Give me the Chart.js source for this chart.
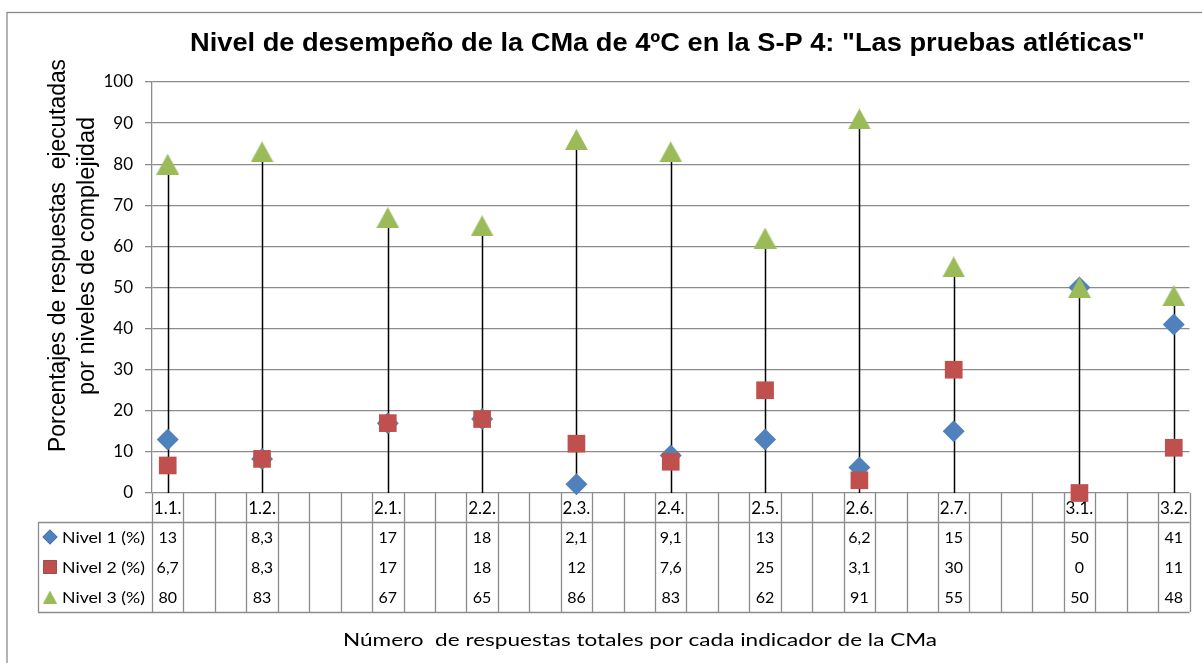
<!DOCTYPE html>
<html>
<head>
<meta charset="utf-8">
<script src="https://cdn.jsdelivr.net/npm/chart.js@4.4.0/dist/chart.umd.min.js"></script>
<style>
  html, body { margin: 0; padding: 0; background: #fff; }
  #wrap { width: 1202px; height: 663px; }
</style>
</head>
<body>
<div id="wrap"><canvas id="chart"></canvas></div>
<script>
//indicator codes, the empty ones are the blank columns of the table
const categories = ['1.1.', '', '', '1.2.', '', '', '', '2.1.', '', '', '2.2.', '', '', '2.3.', '', '', '2.4.', '', '',
    '2.5.', '', '', '2.6.', '', '', '2.7.', '', '', '', '3.1.', '', '', '3.2.'];

//percentages per level of complexity
const nivel1 = [13, null, null, 8.3, null, null, null, 17, null, null, 18, null, null, 2.1, null, null, 9.1, null, null,
    13, null, null, 6.2, null, null, 15, null, null, null, 50, null, null, 41];
const nivel2 = [6.7, null, null, 8.3, null, null, null, 17, null, null, 18, null, null, 12, null, null, 7.6, null, null,
    25, null, null, 3.1, null, null, 30, null, null, null, 0, null, null, 11];
const nivel3 = [80, null, null, 83, null, null, null, 67, null, null, 65, null, null, 86, null, null, 83, null, null,
    62, null, null, 91, null, null, 55, null, null, null, 50, null, null, 48];

const seriesNames = ['Nivel 1 (%)', 'Nivel 2 (%)', 'Nivel 3 (%)'];
const yTicks = [0, 10, 20, 30, 40, 50, 60, 70, 80, 90, 100];

const chartTitle = 'Nivel de desempeño de la CMa de 4ºC en la S-P 4: "Las pruebas atléticas"';
const yTitle = ['Porcentajes de respuestas  ejecutadas', 'por niveles de complejidad'];
const xTitle = 'Número  de respuestas totales por cada indicador de la CMa';

const BLUE = '#4F81BD';
const RED = '#C0504D';
const GREEN = '#9BBB59';
const GRID = '#8c8c8c';
const CALIBRI = 'Lato, "Open Sans", sans-serif';
const ARIAL = '"Liberation Sans", Arial, sans-serif';

//excel triangles are centered on their box, not on the centroid, so we make our own
const makeTriangle = (w, h, color) => {
    const c = document.createElement('canvas');
    c.width = w;
    c.height = h;
    const g = c.getContext('2d');
    g.fillStyle = color;
    g.beginPath();
    g.moveTo(0, h);
    g.lineTo(w / 2, 0);
    g.lineTo(w, h);
    g.closePath();
    g.fill();
    return c;
};
const bigTriangle = makeTriangle(23, 21, GREEN);
const smallTriangle = makeTriangle(14, 13, GREEN);

//draws text squeezed or stretched to a given width, like Excel does
const fitText = (ctx, text, x, y, width) => {
    const w = ctx.measureText(text).width;
    ctx.save();
    ctx.translate(x, y);
    ctx.scale(width / w, 1);
    ctx.fillText(text, 0, 0);
    ctx.restore();
};

const formatValue = (v) => String(v).replace('.', ',');

const drawMarker = (ctx, style, x, y, r, color) => {
    if (style instanceof HTMLCanvasElement) {
        ctx.drawImage(style, x - style.width / 2, y - style.height / 2);
        return;
    }
    Chart.helpers.drawPoint(ctx, {pointStyle: style, radius: r, rotation: 0, borderWidth: 0}, x, y);
    ctx.fillStyle = color;
    ctx.fill();
};

//drop lines from the highest point of each category to the axis
const dropLines = {
    id: 'dropLines',
    beforeDatasetsDraw(chart) {
        const {ctx, scales: {x, y}} = chart;
        ctx.save();
        ctx.strokeStyle = '#000';
        ctx.lineWidth = 1.5;
        categories.forEach((c, i) => {
            const vals = [nivel1[i], nivel2[i], nivel3[i]].filter((v) => v !== null);
            if (!vals.length) return;
            const px = Math.round(x.getPixelForValue(i)) + 0.5;
            ctx.beginPath();
            ctx.moveTo(px, y.getPixelForValue(Math.max(...vals)));
            ctx.lineTo(px, y.getPixelForValue(0));
            ctx.stroke();
        });
        ctx.restore();
    },
};

//data table under the chart, plus titles and the outer frame
const dataTable = {
    id: 'dataTable',
    beforeDatasetsDraw(chart) {
        const {ctx, chartArea, scales: {x}} = chart;
        const left = chartArea.left;
        const right = chartArea.right;
        const top = chartArea.bottom;
        const labelBottom = top + 29;
        const rowH = 30;
        const tableBottom = labelBottom + rowH * 3;
        const legendLeft = 38;
        const step = (right - left) / categories.length;

        ctx.save();
        ctx.strokeStyle = GRID;
        ctx.lineWidth = 1.3;
        ctx.beginPath();
        for (let i = 0; i <= categories.length; i++) {
            const bx = Math.round(left + i * step) + 0.5;
            ctx.moveTo(bx, top);
            ctx.lineTo(bx, tableBottom);
        }
        ctx.moveTo(legendLeft, labelBottom + 0.5);
        ctx.lineTo(right, labelBottom + 0.5);
        ctx.moveTo(legendLeft, tableBottom + 0.5);
        ctx.lineTo(right, tableBottom + 0.5);
        ctx.moveTo(legendLeft + 0.5, labelBottom);
        ctx.lineTo(legendLeft + 0.5, tableBottom);
        ctx.stroke();

        //category labels and values
        ctx.fillStyle = '#000';
        ctx.textAlign = 'center';
        ctx.textBaseline = 'middle';
        categories.forEach((c, i) => {
            const px = x.getPixelForValue(i);
            ctx.font = '17px ' + CALIBRI;
            if (c) ctx.fillText(c, px, top + 16);
            ctx.font = '16px ' + CALIBRI;
            [nivel1, nivel2, nivel3].forEach((serie, r) => {
                if (serie[i] !== null) ctx.fillText(formatValue(serie[i]), px, labelBottom + rowH * r + 16);
            });
        });

        //legend keys in the table
        const keys = [['rectRot', 7.5, BLUE], ['rect', 9.5, RED], [smallTriangle, 0, GREEN]];
        keys.forEach((k, r) => {
            drawMarker(ctx, k[0], 50, labelBottom + rowH * r + 15, k[1], k[2]);
            ctx.fillStyle = '#000';
            ctx.textAlign = 'left';
            ctx.font = '16px ' + CALIBRI;
            fitText(ctx, seriesNames[r], 62, labelBottom + rowH * r + 16, 83);
        });

        //titles
        ctx.textAlign = 'left';
        ctx.font = 'bold 25px ' + ARIAL;
        fitText(ctx, chartTitle, 190, 44, 955);

        ctx.font = '18px ' + CALIBRI;
        fitText(ctx, xTitle, 343, 640, 594);

        ctx.font = '23px ' + ARIAL;
        ctx.save();
        ctx.translate(59, 256);
        ctx.rotate(-Math.PI / 2);
        fitText(ctx, yTitle[0], -196, 0, 393);
        ctx.restore();
        ctx.save();
        ctx.translate(88, 256);
        ctx.rotate(-Math.PI / 2);
        fitText(ctx, yTitle[1], -139, 0, 278);
        ctx.restore();

        //outer frame of the chart
        ctx.strokeStyle = '#8a8a8a';
        ctx.lineWidth = 1.3;
        ctx.strokeRect(7, 12.5, 1400, 900);
        ctx.restore();
    },
};

const makeSet = (label, data, style, radius, color, order) => ({
    label,
    data,
    showLine: false,
    clip: false,
    pointStyle: style,
    pointRadius: radius,
    pointHoverRadius: radius,
    pointBackgroundColor: color,
    pointBorderColor: color,
    pointBorderWidth: 0,
    order,
});

new Chart(document.getElementById('chart'), {
    type: 'line',
    data: {
        labels: categories,
        datasets: [
            makeSet(seriesNames[0], nivel1, 'rectRot', 11, BLUE, 3),
            makeSet(seriesNames[1], nivel2, 'rect', 12.5, RED, 2),
            makeSet(seriesNames[2], nivel3, bigTriangle, 12, GREEN, 1),
        ],
    },
    options: {
        responsive: true,
        maintainAspectRatio: false,
        animation: false,
        layout: {padding: {left: 0, top: 82, right: 7, bottom: 170}},
        plugins: {
            legend: {display: false},
            title: {display: false},
            tooltip: {enabled: false},
        },
        scales: {
            x: {
                type: 'category',
                display: false,
                offset: true,
            },
            y: {
                min: 0,
                max: 100,
                afterFit: (scale) => { scale.width = 152; },
                afterBuildTicks: (scale) => { scale.ticks = yTicks.map((v) => ({value: v})); },
                ticks: {
                    color: '#000',
                    font: {family: CALIBRI, size: 17},
                    padding: 12,
                },
                grid: {
                    color: GRID,
                    lineWidth: 1.3,
                    tickLength: 7,
                    tickColor: GRID,
                },
                border: {color: GRID, width: 1.3},
            },
        },
    },
    plugins: [dataTable, dropLines],
});
</script>
</body>
</html>
